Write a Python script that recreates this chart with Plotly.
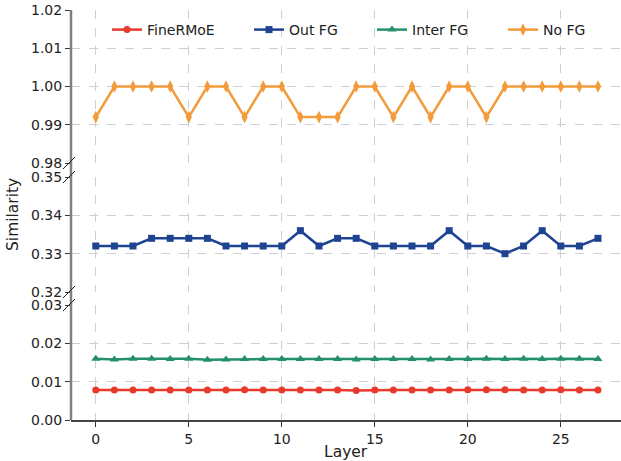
import plotly.graph_objects as go

layers = list(range(28))

finermoe = [0.0078, 0.0078, 0.0078, 0.0078, 0.0078, 0.0078, 0.0078, 0.0078, 0.0079, 0.0078,
            0.0078, 0.0078, 0.0078, 0.0078, 0.0077, 0.0078, 0.0078, 0.0078, 0.0078, 0.0078,
            0.0079, 0.0079, 0.0079, 0.0078, 0.0078, 0.0079, 0.0078, 0.0078]
inter_fg = [0.0160, 0.0158, 0.0160, 0.0160, 0.0159, 0.0160, 0.0157, 0.0158, 0.0159, 0.0159,
            0.0159, 0.0159, 0.0159, 0.0159, 0.0158, 0.0159, 0.0159, 0.0159, 0.0158, 0.0159,
            0.0159, 0.0160, 0.0159, 0.0160, 0.0159, 0.0160, 0.0160, 0.0159]
out_fg = [0.332, 0.332, 0.332, 0.334, 0.334, 0.334, 0.334, 0.332, 0.332, 0.332,
          0.332, 0.336, 0.332, 0.334, 0.334, 0.332, 0.332, 0.332, 0.332, 0.336,
          0.332, 0.332, 0.330, 0.332, 0.336, 0.332, 0.332, 0.334]
no_fg = [0.992, 1.0, 1.0, 1.0, 1.0, 0.992, 1.0, 1.0, 0.992, 1.0,
         1.0, 0.992, 0.992, 0.992, 1.0, 1.0, 0.992, 1.0, 0.992, 1.0,
         1.0, 0.992, 1.0, 1.0, 1.0, 1.0, 1.0, 1.0]

x_ticks = [0, 5, 10, 15, 20, 25]
bottom_range = [0.0, 0.03]
middle_range = [0.32, 0.35]
top_range = [0.98, 1.02]

RED = "#e8392c"
BLUE = "#1d4391"
GREEN = "#23906a"
ORANGE = "#f39a3a"
FONT = "DejaVu Sans"

fig = go.Figure()

def add(y, name, color, symbol, size, yaxis, xaxis, legend):
    fig.add_trace(go.Scatter(
        x=layers, y=y, name=name, mode="lines+markers",
        line=dict(color=color, width=2.5),
        marker=dict(color=color, symbol=symbol, size=size),
        xaxis=xaxis, yaxis=yaxis, legend=legend, showlegend=True))

add(finermoe, "FineRMoE", RED, "circle", 7, "y", "x", "legend")
add(out_fg, "Out FG", BLUE, "square", 7, "y2", "x2", "legend2")
add(inter_fg, "Inter FG", GREEN, "triangle-up", 8, "y", "x", "legend3")
add(no_fg, "No FG", ORANGE, "diamond-tall", 9, "y3", "x3", "legend4")

W, H = 621, 461
L, R, T, B = 71, 0, 10, 41
pw, ph = W - L - R, H - T - B

def py(px):
    return (H - B - px) / ph

def pxx(px):
    return (px - L) / pw

d_bottom = [0, py(305)]
d_middle = [py(292), py(177)]
d_top = [py(163), 1]

xrange_ = [-1.333, -1.333 + pw / 18.6]

grid = dict(showgrid=True, gridcolor="#cfcfcf", griddash="dash", gridwidth=1)
tickfont = dict(family=FONT, size=14, color="#222")

common_x = dict(range=xrange_, tickvals=x_ticks, zeroline=False, **grid)
fig.update_layout(
    xaxis=dict(anchor="y", domain=[0, 1], showticklabels=True, ticks="outside", ticklen=5,
               tickcolor="#333", showline=True, linecolor="#444", linewidth=1.5,
               tickfont=tickfont, **common_x),
    xaxis2=dict(anchor="y2", domain=[0, 1], matches="x", showticklabels=False, showline=False, **common_x),
    xaxis3=dict(anchor="y3", domain=[0, 1], matches="x", showticklabels=False, showline=False, **common_x),
)

def yax(domain, rng, anchor):
    return dict(domain=domain, range=rng, anchor=anchor, dtick=0.01, tick0=0, tickformat=".2f",
                ticks="outside", ticklen=5, tickcolor="#333", tickfont=tickfont,
                showline=False, zeroline=False, **grid)

fig.update_layout(
    yaxis=yax(d_bottom, bottom_range, "x"),
    yaxis2=yax(d_middle, middle_range, "x2"),
    yaxis3=yax(d_top, top_range, "x3"),
)

leg_y = py(30)
leg_common = dict(orientation="h", yanchor="middle", y=leg_y, xanchor="left",
                  bgcolor="rgba(0,0,0,0)", font=dict(family=FONT, size=14, color="#222"))
fig.update_layout(
    legend=dict(x=pxx(107), **leg_common),
    legend2=dict(x=pxx(249), **leg_common),
    legend3=dict(x=pxx(372), **leg_common),
    legend4=dict(x=pxx(503), **leg_common),
)

shapes = []
shapes.append(dict(type="line", xref="paper", yref="paper", x0=0, x1=0, y0=0, y1=1,
                   line=dict(color="#808080", width=2.5), layer="above"))
dx, dy = 6 / pw, 6 / ph
for yb in [d_top[0], d_middle[1], d_middle[0], d_bottom[1]]:
    shapes.append(dict(type="line", xref="paper", yref="paper",
                       x0=-dx - 2 / pw, y0=yb - dy, x1=dx - 2 / pw, y1=yb + dy,
                       line=dict(color="#222", width=1), layer="above"))
fig.update_layout(shapes=shapes)

fig.add_annotation(text="Similarity", xref="paper", yref="paper", x=pxx(13), y=py(215),
                   textangle=-90, showarrow=False, xanchor="center", yanchor="middle",
                   font=dict(family=FONT, size=15.5, color="#222"))
fig.add_annotation(text="Layer", xref="paper", yref="paper", x=pxx(346), y=py(452),
                   showarrow=False, xanchor="center", yanchor="middle",
                   font=dict(family=FONT, size=15.5, color="#222"))

fig.update_layout(width=W, height=H, margin=dict(l=L, r=R, t=T, b=B, autoexpand=False),
                  plot_bgcolor="white", paper_bgcolor="white",
                  font=dict(family=FONT, size=14, color="#222"))

fig.write_html("out.html", config={"displayModeBar": False},
               post_script="document.body.style.margin='0';document.body.style.padding='0';"
                           "document.documentElement.style.overflow='hidden';")
